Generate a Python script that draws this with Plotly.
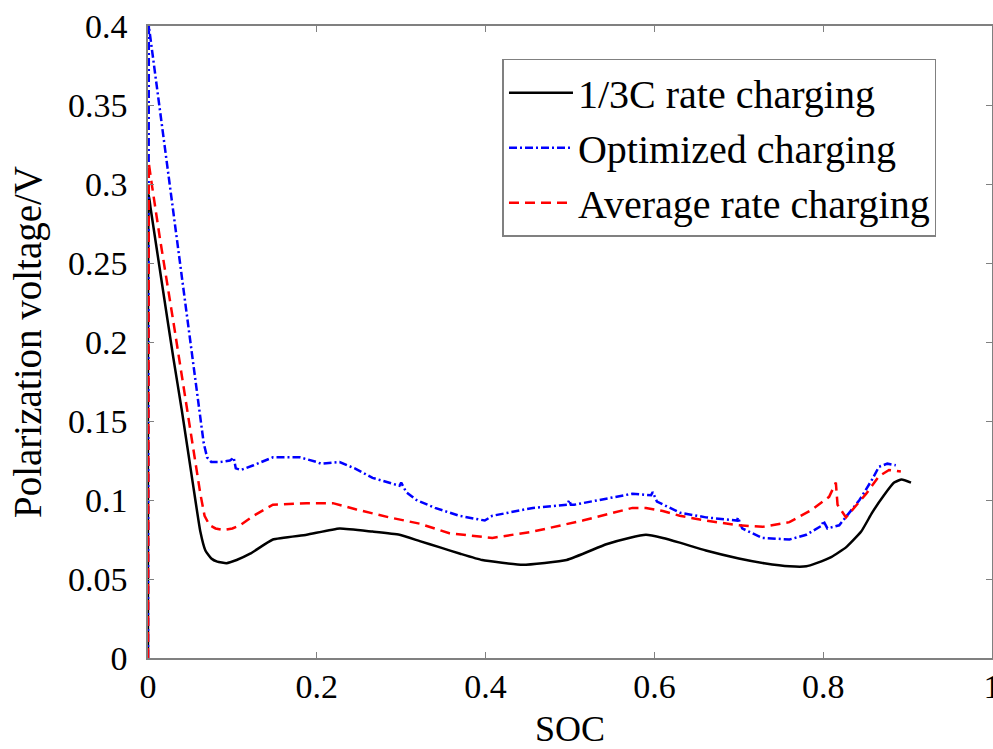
import plotly.graph_objects as go

# ---- data ----
soc_13c = [0, 0.001, 0.003, 0.018, 0.030, 0.040, 0.053, 0.062, 0.068, 0.075, 0.082, 0.093,
           0.105, 0.121, 0.148, 0.188, 0.227, 0.266, 0.298, 0.322, 0.346, 0.370, 0.396,
           0.444, 0.496, 0.543, 0.570, 0.590, 0.610, 0.630, 0.661, 0.700, 0.730, 0.760,
           0.780, 0.792, 0.810, 0.827, 0.845, 0.858, 0.872, 0.884, 0.893, 0.904]
v_13c = [0, 0.293, 0.285, 0.232, 0.190, 0.157, 0.111, 0.080, 0.068, 0.063, 0.061, 0.060,
         0.062, 0.066, 0.075, 0.078, 0.082, 0.080, 0.078, 0.074, 0.070, 0.066, 0.062,
         0.059, 0.062, 0.072, 0.076, 0.078, 0.076, 0.073, 0.068, 0.063, 0.060, 0.058,
         0.058, 0.060, 0.064, 0.070, 0.080, 0.092, 0.103, 0.111, 0.113, 0.111]

soc_opt = [0, 0.001, 0.020, 0.040, 0.058, 0.066, 0.070, 0.075, 0.085, 0.097, 0.100, 0.1015,
           0.104, 0.110, 0.125, 0.148, 0.165, 0.180, 0.200, 0.205, 0.227, 0.245, 0.266,
           0.285, 0.298, 0.300, 0.306, 0.318, 0.340, 0.369, 0.399, 0.402, 0.408, 0.456,
           0.497, 0.499, 0.501, 0.505, 0.535, 0.574, 0.596, 0.598, 0.603, 0.614, 0.630,
           0.661, 0.698, 0.699, 0.704, 0.728, 0.760, 0.780, 0.799, 0.800, 0.805, 0.819,
           0.843, 0.858, 0.866, 0.876, 0.886]
v_opt = [0, 0.400, 0.323, 0.241, 0.168, 0.136, 0.127, 0.124, 0.124, 0.125, 0.126, 0.127,
         0.120, 0.119, 0.122, 0.127, 0.127, 0.127, 0.124, 0.123, 0.124, 0.120, 0.114,
         0.111, 0.109, 0.111, 0.105, 0.100, 0.095, 0.090, 0.087, 0.088, 0.090, 0.095,
         0.097, 0.100, 0.097, 0.097, 0.100, 0.104, 0.103, 0.105, 0.099, 0.096, 0.092,
         0.089, 0.087, 0.089, 0.082, 0.076, 0.075, 0.078, 0.084, 0.087, 0.082, 0.084,
         0.100, 0.113, 0.121, 0.123, 0.122]

soc_avg = [0, 0.001, 0.005, 0.014, 0.030, 0.040, 0.050, 0.062, 0.067, 0.073, 0.080, 0.089,
           0.100, 0.109, 0.125, 0.148, 0.188, 0.219, 0.247, 0.286, 0.322, 0.357, 0.408,
           0.456, 0.515, 0.574, 0.590, 0.610, 0.630, 0.661, 0.700, 0.728, 0.760, 0.787,
           0.807, 0.815, 0.817, 0.827, 0.851, 0.866, 0.878, 0.892]
v_avg = [0, 0.313, 0.298, 0.266, 0.213, 0.178, 0.145, 0.104, 0.090, 0.084, 0.082, 0.081,
         0.082, 0.084, 0.090, 0.097, 0.098, 0.098, 0.094, 0.089, 0.085, 0.079, 0.076,
         0.080, 0.087, 0.095, 0.095, 0.093, 0.090, 0.087, 0.084, 0.083, 0.086, 0.094,
         0.102, 0.111, 0.097, 0.089, 0.104, 0.115, 0.119, 0.118]

x_ticks = [0, 0.2, 0.4, 0.6, 0.8, 1]
x_labels = ["0", "0.2", "0.4", "0.6", "0.8", "1"]
y_ticks = [0, 0.05, 0.1, 0.15, 0.2, 0.25, 0.3, 0.35, 0.4]
y_labels = ["0", "0.05", "0.1", "0.15", "0.2", "0.25", "0.3", "0.35", "0.4"]

FONT = "Times New Roman, Liberation Serif, DejaVu Serif, serif"

fig = go.Figure()
fig.add_trace(go.Scatter(x=soc_13c, y=v_13c, mode="lines", name="1/3C rate charging",
                         line=dict(color="black", width=2.5, shape="spline", smoothing=0.4)))
fig.add_trace(go.Scatter(x=soc_opt, y=v_opt, mode="lines", name="Optimized charging",
                         line=dict(color="#0000ff", width=2.5, dash="8px,3px,2px,3px")))
fig.add_trace(go.Scatter(x=soc_avg, y=v_avg, mode="lines", name="Average rate charging",
                         line=dict(color="#ff0000", width=2.5, dash="10px,6px")))

axis_common = dict(
    showgrid=False, zeroline=False, showline=True, linecolor="#808080", linewidth=1.5,
    mirror="ticks", ticks="inside", ticklen=6, tickcolor="#808080", tickwidth=1.2,
    automargin=False, tickfont=dict(family=FONT, size=34, color="black"),
    ticklabeloverflow="allow",
)

fig.update_layout(
    width=993, height=749,
    margin=dict(l=148, r=1, t=26, b=91),
    paper_bgcolor="white", plot_bgcolor="white",
    font=dict(family=FONT, color="black"),
    showlegend=True,
    legend=dict(x=0.42, y=0.948, xanchor="left", yanchor="top",
                bgcolor="white", bordercolor="#808080", borderwidth=1.5,
                font=dict(family=FONT, size=40, color="black"),
                tracegroupgap=0, itemwidth=64),
    xaxis=dict(range=[0, 1], tickvals=x_ticks, ticktext=x_labels, ticklabelstandoff=-3,
               title=dict(text="SOC", font=dict(family=FONT, size=36), standoff=22),
               **axis_common),
    yaxis=dict(range=[0, 0.4], tickvals=y_ticks, ticktext=y_labels, ticklabelstandoff=12,
               title=dict(text="Polarization voltage/V", font=dict(family=FONT, size=39),
                          standoff=14),
               **axis_common),
)

fig.write_html("out.html", config={"displayModeBar": False},
               post_script="document.body.style.margin='0';document.body.style.overflow='hidden';")
